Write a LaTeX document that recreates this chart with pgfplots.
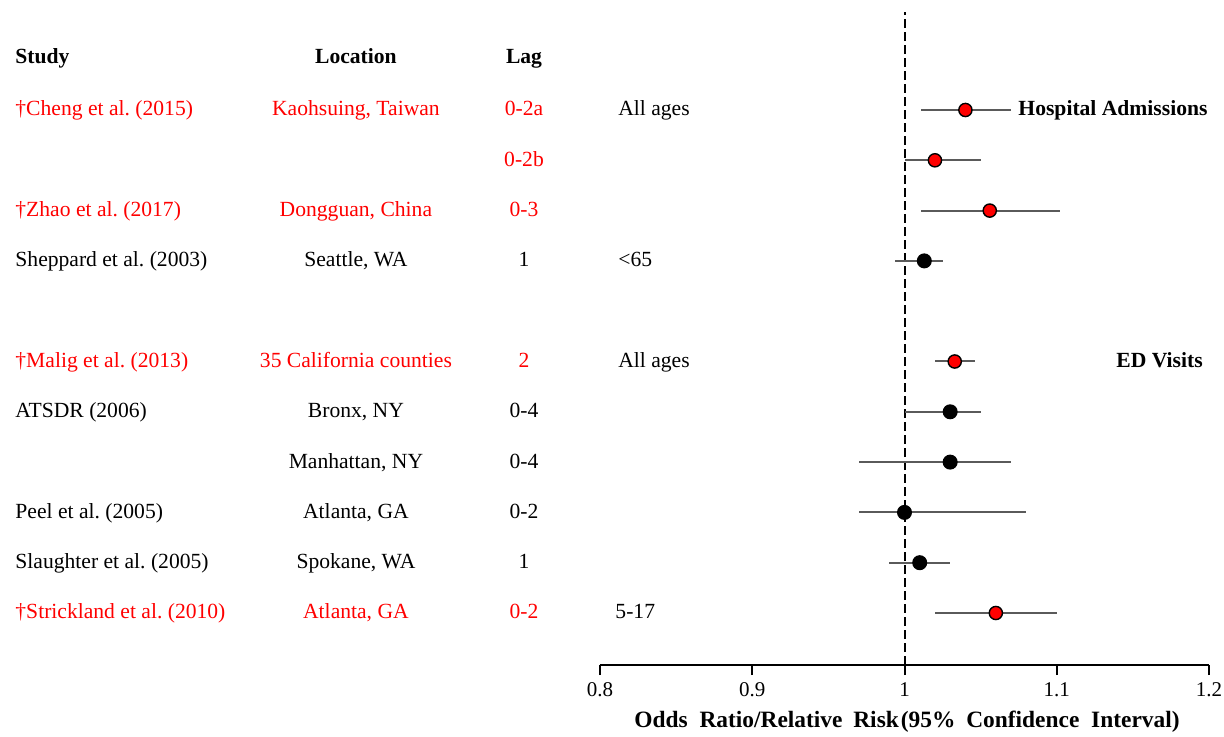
\documentclass[border=0pt]{standalone}
\usepackage{fontspec}
\setmainfont{Liberation Serif}
\usepackage{pgfplots}
\pgfplotsset{compat=1.18}
\usepackage{pgfplotstable}
\definecolor{ptred}{RGB}{255,0,0}
\definecolor{cigray}{RGB}{90,90,90}
\newcommand\fs{\fontsize{10.8}{12.9}\selectfont}
\newcommand\tfs{\fontsize{10.5}{12.6}\selectfont}
\tikzset{lbl/.style={inner xsep=0pt, font=\fs}}
\frenchspacing

\pgfplotstableread{
row or lo hi
0 1.040 1.011 1.070
1 1.020 1.000 1.050
2 1.056 1.011 1.102
5 1.033 1.020 1.046
10 1.060 1.020 1.100
}\redpts
\pgfplotstableread{
row or lo hi
3 1.013 0.994 1.025
6 1.030 1.000 1.050
7 1.030 0.970 1.070
8 1.000 0.970 1.080
9 1.010 0.990 1.030
}\blackpts

\begin{document}
\frenchspacing
\begin{tikzpicture}
\path[use as bounding box] (-300pt,-35.5pt) rectangle (312pt,332.5pt);
\begin{axis}[
  at={(0,0)}, anchor=south west,
  scale only axis, width=304.5pt, height=326.5pt,
  xmin=0.8, xmax=1.2, ymin=-11.034, ymax=1.948,
  axis x line*=bottom, axis y line=none,
  x axis line style={line width=1pt, black},
  xtick={0.8,0.9,1,1.1,1.2}, xticklabels={0.8,0.9,1,1.1,1.2},
  tick align=outside, major tick length=5pt,
  tick style={line width=1pt, black},
  xticklabel style={font=\tfs},
  clip=false,
  text height=1.6ex, text depth=0.3ex,
]
% reference line
\addplot[black, line width=1pt, dash pattern=on 4.5pt off 2pt] coordinates {(1,-11.034) (1,1.948)};
% confidence intervals + points
\addplot[only marks, mark=*, mark size=3.3pt,
  mark options={fill=ptred, draw=black, line width=0.7pt},
  error bars/.cd, x dir=both, x explicit, error mark=none,
  error bar style={cigray, line width=1pt, solid}]
  table[x=or, y expr=-\thisrow{row},
        x error plus expr=\thisrow{hi}-\thisrow{or},
        x error minus expr=\thisrow{or}-\thisrow{lo}] {\redpts};
\addplot[only marks, mark=*, mark size=3.4pt,
  mark options={fill=black, draw=black, line width=0.7pt},
  error bars/.cd, x dir=both, x explicit, error mark=none,
  error bar style={cigray, line width=1pt, solid}]
  table[x=or, y expr=-\thisrow{row},
        x error plus expr=\thisrow{hi}-\thisrow{or},
        x error minus expr=\thisrow{or}-\thisrow{lo}] {\blackpts};

% headers
\node[lbl, anchor=west, font=\bfseries\fs] at (axis cs:0.4158,1.034) {Study};
\node[lbl, font=\bfseries\fs] at (axis cs:0.6397,1.034) {Location};
\node[lbl, font=\bfseries\fs] at (axis cs:0.7501,1.034) {Lag};

% study column
\node[lbl, anchor=west, text=ptred] at (axis cs:0.4158,0) {†Cheng et al. (2015)};
\node[lbl, anchor=west, text=ptred] at (axis cs:0.4158,-2) {†Zhao et al. (2017)};
\node[lbl, anchor=west] at (axis cs:0.4158,-3) {Sheppard et al. (2003)};
\node[lbl, anchor=west, text=ptred] at (axis cs:0.4158,-5) {†Malig et al. (2013)};
\node[lbl, anchor=west] at (axis cs:0.4158,-6) {ATSDR (2006)};
\node[lbl, anchor=west] at (axis cs:0.4158,-8) {Peel et al. (2005)};
\node[lbl, anchor=west] at (axis cs:0.4158,-9) {Slaughter et al. (2005)};
\node[lbl, anchor=west, text=ptred] at (axis cs:0.4158,-10) {†Strickland et al. (2010)};

% location column
\node[lbl, text=ptred] at (axis cs:0.6397,0) {Kaohsuing, Taiwan};
\node[lbl, text=ptred] at (axis cs:0.6397,-2) {Dongguan, China};
\node[lbl] at (axis cs:0.6397,-3) {Seattle, WA};
\node[lbl, text=ptred] at (axis cs:0.6397,-5) {35 California counties};
\node[lbl] at (axis cs:0.6397,-6) {Bronx, NY};
\node[lbl] at (axis cs:0.6397,-7) {Manhattan, NY};
\node[lbl] at (axis cs:0.6397,-8) {Atlanta, GA};
\node[lbl] at (axis cs:0.6397,-9) {Spokane, WA};
\node[lbl, text=ptred] at (axis cs:0.6397,-10) {Atlanta, GA};

% lag column
\node[lbl, text=ptred] at (axis cs:0.7501,0) {0-2a};
\node[lbl, text=ptred] at (axis cs:0.7501,-1) {0-2b};
\node[lbl, text=ptred] at (axis cs:0.7501,-2) {0-3};
\node[lbl] at (axis cs:0.7501,-3) {1};
\node[lbl, text=ptred] at (axis cs:0.7501,-5) {2};
\node[lbl] at (axis cs:0.7501,-6) {0-4};
\node[lbl] at (axis cs:0.7501,-7) {0-4};
\node[lbl] at (axis cs:0.7501,-8) {0-2};
\node[lbl] at (axis cs:0.7501,-9) {1};
\node[lbl, text=ptred] at (axis cs:0.7501,-10) {0-2};

% age column
\node[lbl, anchor=west] at (axis cs:0.8118,0) {All ages};
\node[lbl, anchor=west] at (axis cs:0.8118,-3) {<65};
\node[lbl, anchor=west] at (axis cs:0.8118,-5) {All ages};
\node[lbl, anchor=west] at (axis cs:0.8099,-10) {5-17};

% group labels
\node[lbl, anchor=east, font=\bfseries\fs] at (axis cs:1.1993,0) {Hospital Admissions};
\node[lbl, anchor=east, font=\bfseries\fs] at (axis cs:1.1961,-5) {ED Visits};

% x label
\node[lbl, anchor=west, font=\bfseries\fontsize{11.7}{14}\selectfont, yshift=-28.5pt] at (axis cs:0.8223,-11.034) {Odds\hspace{3pt} Ratio/Relative\hspace{2.5pt} Risk\hspace{1pt}(95\%\hspace{2.5pt} Confidence\hspace{3pt} Interval)};
\end{axis}
\end{tikzpicture}
\end{document}
